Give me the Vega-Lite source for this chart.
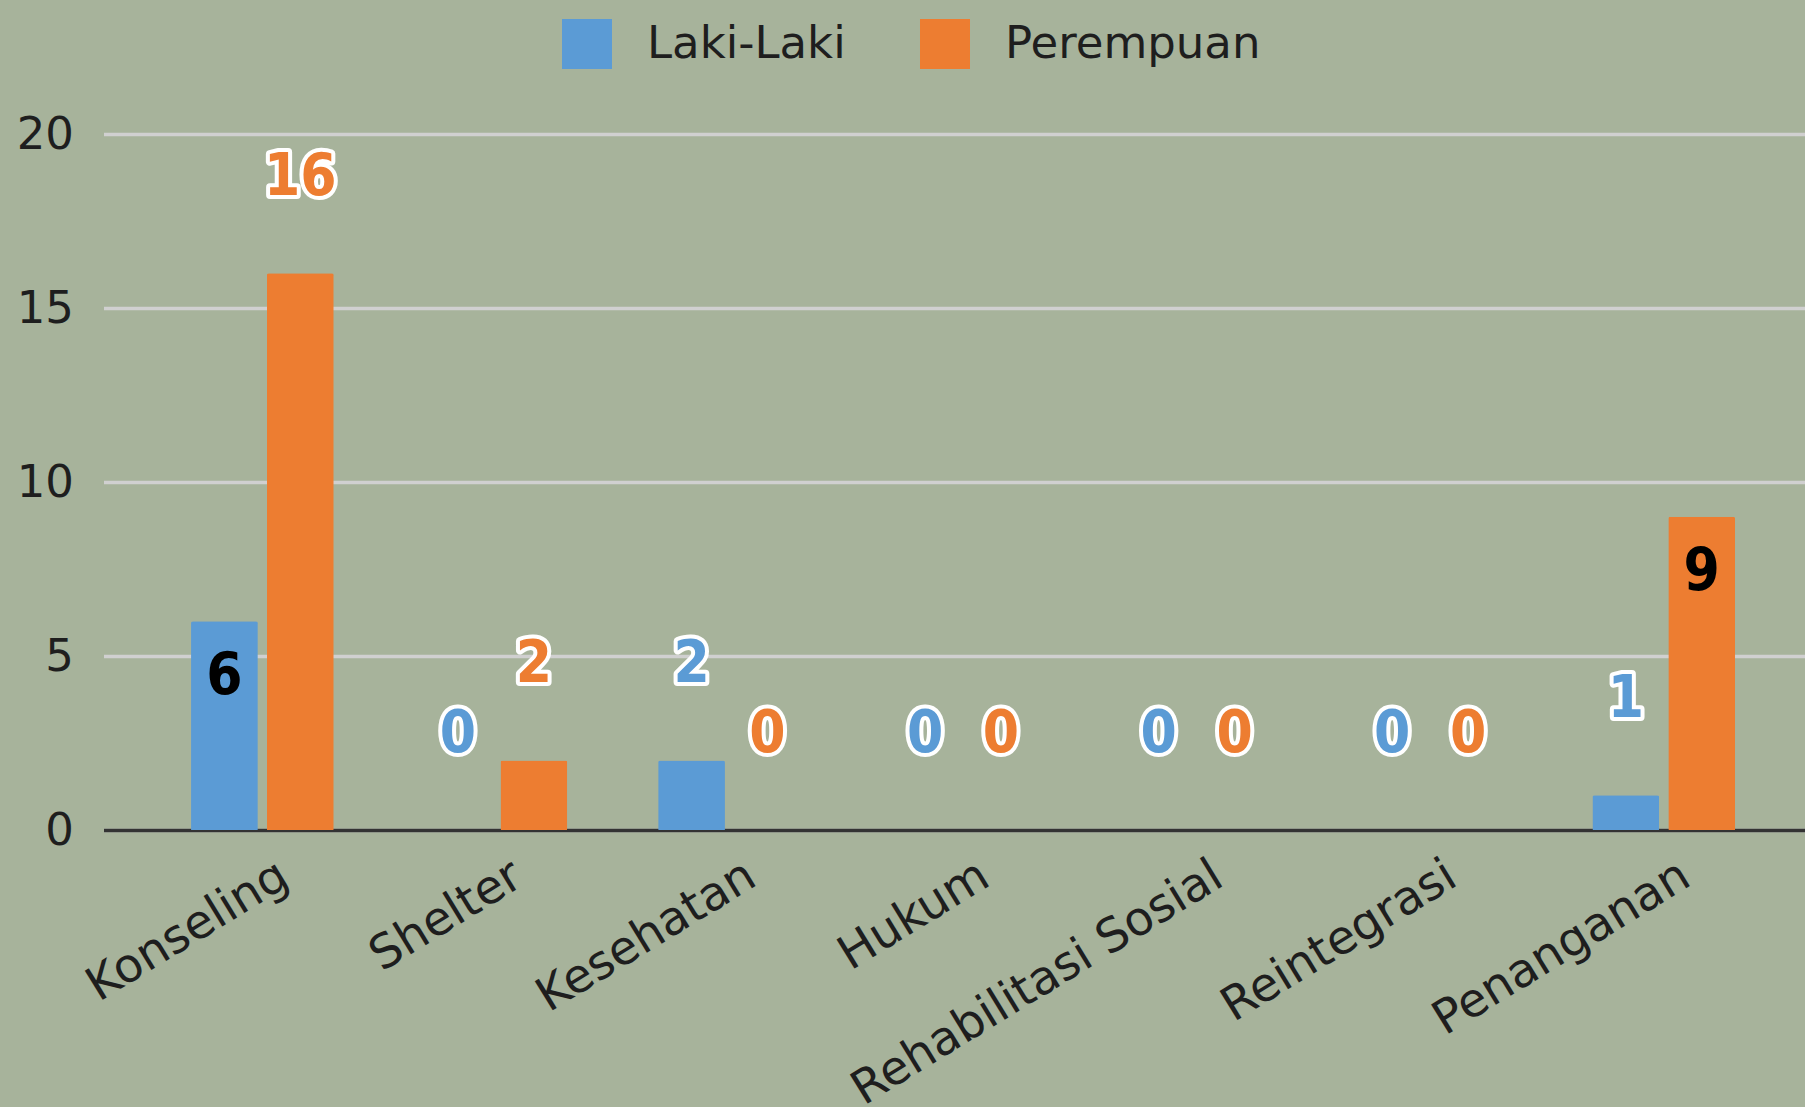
{
  "$schema": "https://vega.github.io/schema/vega-lite/v6.json",
  "autosize": {"type": "none"},
  "padding": {"left": 103.5, "top": 134, "right": 0, "bottom": 277},
  "width": 1701.5,
  "height": 696,
  "background": "#a7b39b",
  "config": {
    "view": {"stroke": null},
    "font": "DejaVu Sans"
  },
  "data": {
    "values": [
      {"Layanan": "Konseling", "Jenis": "Laki-Laki", "Jumlah": 6},
      {"Layanan": "Konseling", "Jenis": "Perempuan", "Jumlah": 16},
      {"Layanan": "Shelter", "Jenis": "Laki-Laki", "Jumlah": 0},
      {"Layanan": "Shelter", "Jenis": "Perempuan", "Jumlah": 2},
      {"Layanan": "Kesehatan", "Jenis": "Laki-Laki", "Jumlah": 2},
      {"Layanan": "Kesehatan", "Jenis": "Perempuan", "Jumlah": 0},
      {"Layanan": "Hukum", "Jenis": "Laki-Laki", "Jumlah": 0},
      {"Layanan": "Hukum", "Jenis": "Perempuan", "Jumlah": 0},
      {"Layanan": "Rehabilitasi Sosial", "Jenis": "Laki-Laki", "Jumlah": 0},
      {"Layanan": "Rehabilitasi Sosial", "Jenis": "Perempuan", "Jumlah": 0},
      {"Layanan": "Reintegrasi", "Jenis": "Laki-Laki", "Jumlah": 0},
      {"Layanan": "Reintegrasi", "Jenis": "Perempuan", "Jumlah": 0},
      {"Layanan": "Penanganan", "Jenis": "Laki-Laki", "Jumlah": 1},
      {"Layanan": "Penanganan", "Jenis": "Perempuan", "Jumlah": 9}
    ]
  },
  "encoding": {
    "x": {
      "field": "Layanan",
      "type": "nominal",
      "sort": null,
      "scale": {"paddingInner": 0.389, "paddingOuter": 0.337, "align": 0.556},
      "axis": {
        "title": null,
        "labelAngle": -31.5,
        "labelAlign": "right",
        "labelBaseline": "top",
        "labelFont": "DejaVu Sans",
        "labelFontSize": 47,
        "labelColor": "#1e1e1e",
        "labelOffset": 10,
        "labelPadding": 22,
        "labelLimit": 1000,
        "ticks": false,
        "grid": false,
        "domainColor": "#333333",
        "domainWidth": 3.5
      }
    },
    "xOffset": {
      "field": "Jenis",
      "type": "nominal",
      "scale": {"paddingInner": 0.12, "paddingOuter": 0}
    },
    "y": {
      "field": "Jumlah",
      "type": "quantitative",
      "scale": {"domain": [0, 20], "nice": false},
      "axis": {
        "title": null,
        "values": [0, 5, 10, 15, 20],
        "labelFont": "DejaVu Sans",
        "labelFontSize": 45,
        "labelColor": "#1e1e1e",
        "labelPadding": 30,
        "ticks": false,
        "domain": false,
        "gridColor": "#d0d0d0",
        "gridWidth": 3.5
      }
    }
  },
  "layer": [
    {
      "mark": {"type": "bar", "cornerRadiusTopLeft": 2, "cornerRadiusTopRight": 2},
      "encoding": {
        "color": {
          "field": "Jenis",
          "type": "nominal",
          "scale": {"domain": ["Laki-Laki", "Perempuan"], "range": ["#5b9bd5", "#ed7d31"]},
          "legend": {
            "title": null,
            "orient": "none",
            "direction": "horizontal",
            "legendX": 458.5,
            "legendY": -115,
            "padding": 0,
            "symbolType": "square",
            "symbolSize": 2500,
            "symbolStrokeWidth": 0,
            "symbolOpacity": 1,
            "labelFont": "DejaVu Sans",
            "labelFontSize": 45,
            "labelColor": "#1e1e1e",
            "labelOffset": 35,
            "columnPadding": 74,
            "labelLimit": 1000
          }
        }
      }
    },
    {
      "transform": [{"filter": "!((datum.Layanan == 'Konseling' && datum.Jenis == 'Laki-Laki') || (datum.Layanan == 'Penanganan' && datum.Jenis == 'Perempuan'))"}],
      "mark": {"type": "text", "font": "DejaVu Sans Condensed", "fontWeight": "bold", "fontSize": 58, "baseline": "middle", "dy": -95, "fill": "white", "stroke": "white", "strokeWidth": 8, "strokeJoin": "round"},
      "encoding": {"text": {"field": "Jumlah", "type": "quantitative"}}
    },
    {
      "transform": [{"filter": "!((datum.Layanan == 'Konseling' && datum.Jenis == 'Laki-Laki') || (datum.Layanan == 'Penanganan' && datum.Jenis == 'Perempuan'))"}],
      "mark": {"type": "text", "font": "DejaVu Sans Condensed", "fontWeight": "bold", "fontSize": 58, "baseline": "middle", "dy": -95},
      "encoding": {
        "text": {"field": "Jumlah", "type": "quantitative"},
        "color": {"field": "Jenis", "type": "nominal"}
      }
    },
    {
      "transform": [{"filter": "(datum.Layanan == 'Konseling' && datum.Jenis == 'Laki-Laki') || (datum.Layanan == 'Penanganan' && datum.Jenis == 'Perempuan')"}],
      "mark": {"type": "text", "font": "DejaVu Sans Condensed", "fontWeight": "bold", "fontSize": 58, "baseline": "middle", "dy": 56, "fill": "#000000"},
      "encoding": {"text": {"field": "Jumlah", "type": "quantitative"}}
    }
  ]
}
